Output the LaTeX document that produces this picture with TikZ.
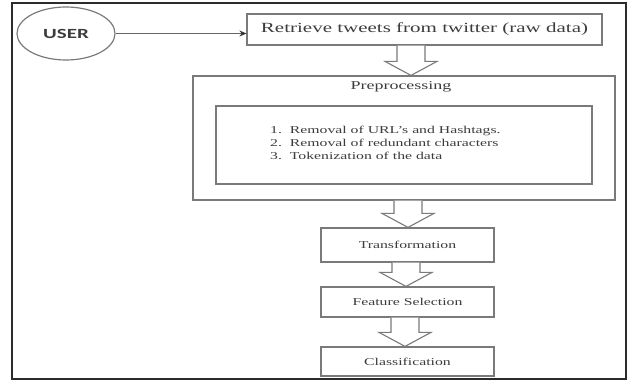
\documentclass[tikz,border=0pt]{standalone}
\usepackage{fontspec}
\usepackage{graphicx}
\setmainfont{Liberation Serif}
\newfontfamily\userfont{Carlito}
\usetikzlibrary{calc,shapes.geometric,arrows.meta}
\definecolor{boxline}{HTML}{7A7A7A}
\definecolor{txt}{HTML}{3C3C3C}
\definecolor{framec}{HTML}{2B2B2B}
\newcommand{\wtxt}[1]{\scalebox{1.5}[1]{#1}}
\newcommand{\barrow}[3]{%
  \draw[blockline] let \p1=(#1.south), \p2=(#2.north) in
   (#3pt-14pt,\y1) -- (#3pt-14pt,\y2+14pt) -- (#3pt-26pt,\y2+14pt) -- (#3pt,\y2)
   -- (#3pt+26pt,\y2+14pt) -- (#3pt+14pt,\y2+14pt) -- (#3pt+14pt,\y1);}
\begin{document}
\begin{tikzpicture}[x=1pt,y=-1pt,
  box/.style={draw=boxline, line width=1.2pt, inner sep=0pt, text=txt},
  lbl/.style={inner sep=0pt, text=txt},
  blockline/.style={draw=boxline, line width=1.1pt, fill=white, line join=miter},
  conn/.style={draw=gray!80!black, line width=1.6pt, -{Stealth[length=7pt,width=6pt,color=black!80]}},
  framebox/.style={draw=framec, line width=2.2pt}]
\useasboundingbox (0,0) rectangle (630,385);
\draw[framebox] (12,3) rectangle (626,379);

\node[box, ellipse, minimum width=98pt, minimum height=53pt] (user) at (66,33.5)
  {\userfont\bfseries\fontsize{14}{16}\selectfont\wtxt{USER}};
\node[box, minimum width=355pt, minimum height=31pt] (ret) at (424.5,29.5)
  {\fontsize{14}{16}\selectfont\wtxt{Retrieve tweets from twitter (raw data)}};

\node[box, minimum width=422pt, minimum height=124pt] (pre) at (404,138) {};
\node[lbl] (pretitle) at (401,87) {\fontsize{12}{14}\selectfont\wtxt{Preprocessing}};
\node[box, minimum width=376pt, minimum height=78pt] (inner) at (404,145) {};
\node[lbl, anchor=west] (steps) at (270,144)
  {\fontsize{10.5}{13}\selectfont\wtxt{\begin{tabular}{@{}l@{}}1.\enspace Removal of URL’s and Hashtags.\\2.\enspace Removal of redundant characters\\3.\enspace Tokenization of the data\end{tabular}}};

\node[box, minimum width=173pt, minimum height=34pt] (trans) at (407.5,245)
  {\fontsize{10.5}{12}\selectfont\wtxt{Transformation}};
\node[box, minimum width=173pt, minimum height=30pt] (feat) at (407.5,302)
  {\fontsize{10.5}{12}\selectfont\wtxt{Feature Selection}};
\node[box, minimum width=173pt, minimum height=29pt] (cls) at (407.5,361.5)
  {\fontsize{10.5}{12}\selectfont\wtxt{Classification}};

\draw[conn] (user.east) -- (user.east -| ret.west);
\barrow{ret}{pre}{411}
\barrow{pre}{trans}{408}
\barrow{trans}{feat}{406}
\barrow{feat}{cls}{405}
\end{tikzpicture}
\end{document}
